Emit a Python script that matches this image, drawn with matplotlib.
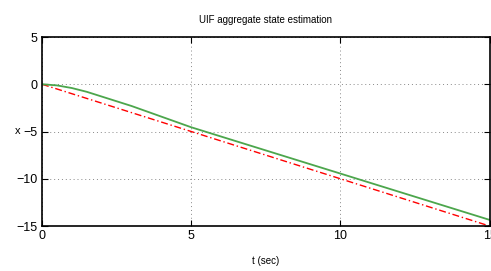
import matplotlib
matplotlib.use("Agg")
import matplotlib.pyplot as plt
from matplotlib import font_manager

names = {f.name for f in font_manager.fontManager.ttflist}
fam = ['Liberation Sans Narrow'] if 'Liberation Sans Narrow' in names else ['Liberation Sans']
plt.rcParams['font.family'] = fam + ['DejaVu Sans']

t_true = [0, 15]
x_true = [0, -15]
t_est = [0, 0.5, 1, 1.5, 2, 3, 5, 10, 15]
x_est = [0, -0.12, -0.4, -0.8, -1.3, -2.3, -4.55, -9.45, -14.35]
xticks = [0, 5, 10, 15]
yticks = [5, 0, -5, -10, -15]

fig = plt.figure(figsize=(4.91, 2.71), dpi=100)
ax = fig.add_axes([42/491, 1-226/271, (489.5-42)/491, (226-37)/271])
ax.plot(t_true, x_true, color='#ff0000', linestyle='-.', linewidth=1.0, dashes=(5, 2, 1, 2))
ax.plot(t_est, x_est, color='#4ca64c', linestyle='-', linewidth=1.3)
ax.set_xlim(0, 15)
ax.set_ylim(-15, 5)
ax.set_xticks(xticks)
ax.set_yticks(yticks)
ax.grid(True, linestyle=(0, (1, 3)), color='#888888', linewidth=0.7)
ax.tick_params(direction='in', top=True, right=True, labelsize=9, length=4, pad=3)
for s in ax.spines.values():
    s.set_linewidth(1.2)
ax.set_title('UIF aggregate state estimation', fontsize=7, pad=10)
ax.set_xlabel('t (sec)', fontsize=7, labelpad=10)
ax.set_ylabel('x', fontsize=8, rotation=0, va='center', ha='center')
ax.yaxis.set_label_coords(-0.054, 0.5)
fig.savefig('out.png', dpi=100)
